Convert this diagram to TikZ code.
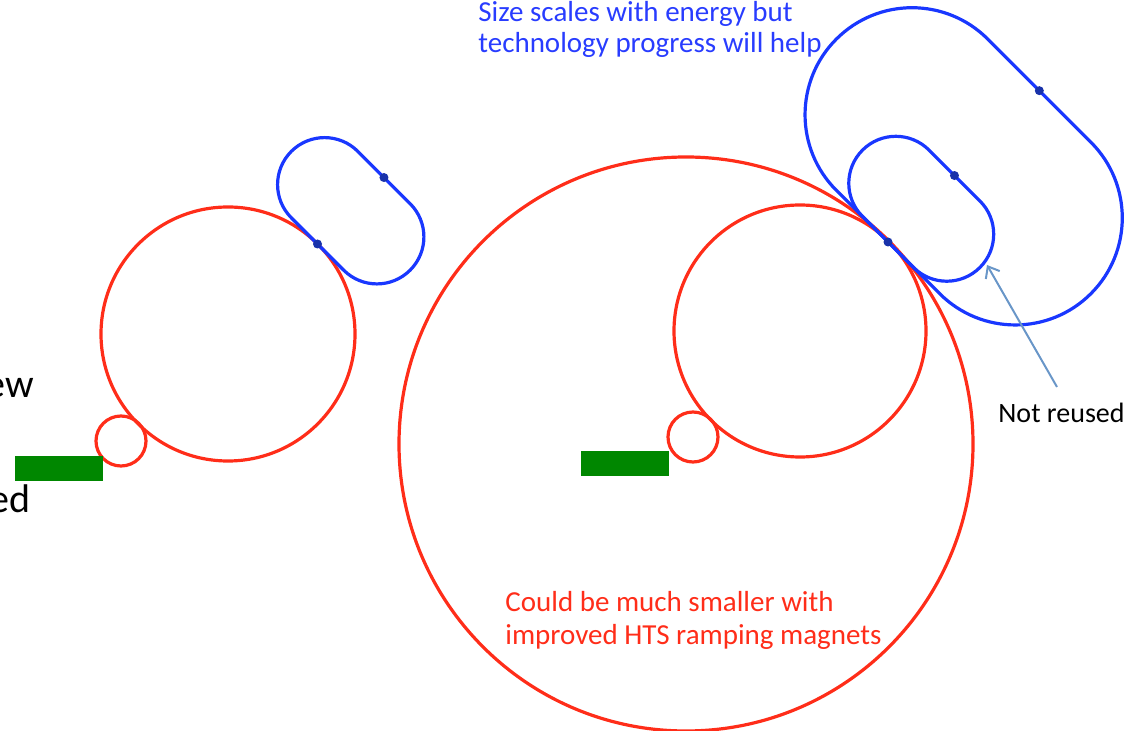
\documentclass[tikz,border=0pt]{standalone}
\usepackage{fontspec}
\setmainfont{Carlito}
\usetikzlibrary{calc,arrows.meta}
\definecolor{ringred}{RGB}{255,45,25}
\definecolor{trackblue}{RGB}{25,55,255}
\definecolor{textblue}{RGB}{40,60,255}
\definecolor{dotblue}{RGB}{25,50,170}
\definecolor{bargreen}{RGB}{0,135,0}
\definecolor{arrowblue}{RGB}{105,150,200}
\newcommand\myracetrack[3]{%
  \draw[track] ($(#1)+(-135:#2)+(135:#3)$) -- ($(#1)+(45:#2)+(135:#3)$)
    arc[start angle=135,end angle=-45,radius=#3]
    -- ($(#1)+(-135:#2)+(-45:#3)$)
    arc[start angle=-45,end angle=-225,radius=#3] -- cycle;}
\begin{document}
\begin{tikzpicture}[x=0.5pt,y=-0.5pt,
  ring/.style={draw=ringred,line width=1.6pt},
  track/.style={line width=1.6pt,draw=trackblue},
  bar/.style={fill=bargreen},
  tdot/.style={circle,fill=dotblue,inner sep=0pt,minimum size=4.5pt},
  lbl/.style={inner sep=0pt,anchor=base west,font=\fontsize{14.5pt}{16pt}\selectfont},
  big/.style={inner sep=0pt,anchor=base east,font=\fontsize{20pt}{24pt}\selectfont}]
\useasboundingbox (0,0) rectangle (1130,731);
\clip (0,0) rectangle (1130,731);
% left system
\coordinate (LC) at (228,334);
\coordinate (LS) at (121,441);
\draw[ring] (LC) circle[radius=127];
\draw[ring] (LS) circle[radius=25];
\fill[bar] (15,456) rectangle (103,481);
\coordinate (LT) at (317.5,244);
\coordinate (LM) at ($(LT)+(-45:47)$);
\myracetrack{LM}{37}{47}
\node[tdot] (ld1) at (LT) {};
\node[tdot] (ld2) at ($(LM)+(-45:47)$) {};
% right system
\coordinate (RT) at (888,242);
\coordinate (RB) at (686,444);
\coordinate (RC) at (800,331);
\coordinate (RS) at (693,437);
\draw[ring] (RB) circle[radius=287];
\draw[ring] (RC) circle[radius=126];
\draw[ring] (RS) circle[radius=25];
\fill[bar] (581,451) rectangle (669,476);
\coordinate (RM1) at ($(RT)+(-45:47)$);
\coordinate (RM2) at ($(RT)+(-45:107)$);
\myracetrack{RM1}{36}{47}
\myracetrack{RM2}{73}{107}
\node[tdot] (rd0) at (RT) {};
\node[tdot] (rd1) at ($(RM1)+(-45:47)$) {};
\node[tdot] (rd2) at ($(RM2)+(-45:107)$) {};
% texts
\node[lbl,text=textblue] (b1) at (478,22) {Size scales with energy but};
\node[lbl,text=textblue] (b2) at (478,53) {technology progress will help};
\node[lbl,text=ringred] (r1) at (505,612) {Could be much smaller with};
\node[lbl,text=ringred] (r2) at (505,645) {improved HTS ramping magnets};
\node[lbl,font=\fontsize{14pt}{16pt}\selectfont] (nr) at (998,423) {Not reused};
\node[big] (ew) at (34,398) {ew};
\node[big] (ed) at (30.5,513) {ed};
% arrow
\coordinate (atail) at (1057,387);
\coordinate (ahead) at (987,265);
\draw[arrowblue,line width=1pt,-{Straight Barb[length=5pt,width=8pt]}] (atail) -- (ahead);
\end{tikzpicture}
\end{document}
